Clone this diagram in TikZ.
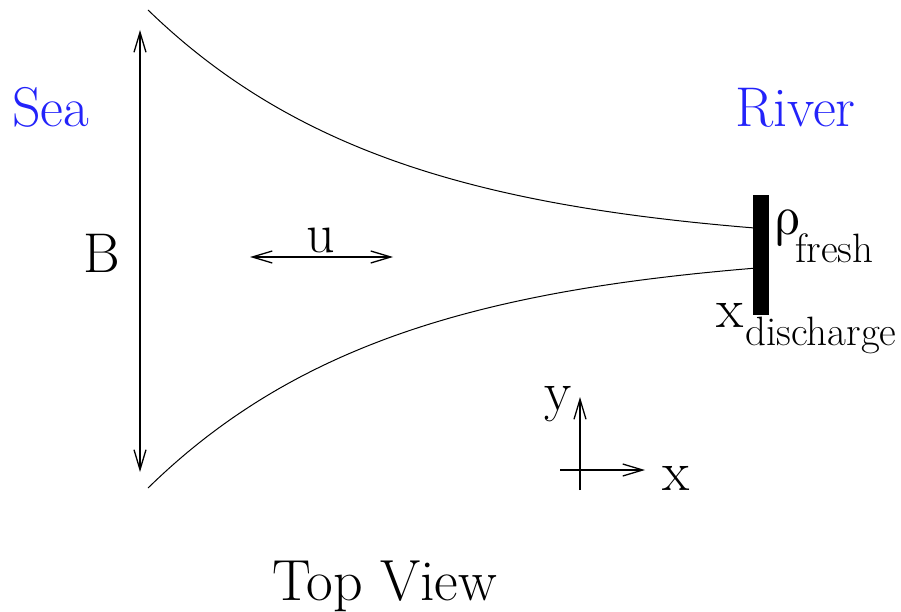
\documentclass[tikz,border=0pt]{standalone}
\usepackage{fontspec}
\newfontfamily\greekup{Latin Modern Math}
\usetikzlibrary{arrows.meta}
\definecolor{seablue}{RGB}{35,35,250}
\tikzset{
  big/.style={font=\fontsize{56}{60}\selectfont,inner sep=0pt,anchor=base west},
  small/.style={font=\fontsize{41}{44}\selectfont,inner sep=0pt,anchor=base west},
  arr/.style={line width=1.3pt},
  bank/.style={line width=1pt}
}

\begin{document}
\begin{tikzpicture}[x=1pt,y=-1pt,>={Straight Barb[length=20pt,width=12pt]}]
\useasboundingbox (0,0) rectangle (901,612);
% banks of the estuary
\draw[bank] plot[domain=148:755,samples=80,smooth] (\x,{248-238*exp(-(\x-148)/245)});
\draw[bank] plot[domain=148:755,samples=80,smooth] (\x,{248+240*exp(-(\x-148)/245)});
\node[fill=black,inner sep=0pt,minimum width=16pt,minimum height=120pt,anchor=north west] (weir) at (753,195) {};

\coordinate (Btop) at (140,30);
\coordinate (Bbot) at (140,472);
\draw[arr,<->] (Bbot) -- (Btop);
\node[big] (B) at (83,272) {B};

\coordinate (uL) at (250,257);
\coordinate (uR) at (393,257);
\draw[arr,<->] (uL) -- (uR);
\node[big] (u) at (306,252) {u};

\node[big,text=seablue] (sea) at (12,127) {Sea};
\node[big,text=seablue] (river) at (735,127) {River};

\node[big] (rho) at (774,234) {\greekup ρ};
\node[small] (fresh) at (795,262) {fresh};
\node[big] (xd) at (716,327) {x};
\node[small] (dis) at (745,345) {discharge};

% axes
\coordinate (o) at (580,470);
\coordinate (ybot) at (580,490);
\coordinate (ytop) at (580,397);
\coordinate (xl) at (560,470);
\coordinate (xr) at (645,470);
\draw[arr,->] (ybot) -- (ytop);
\draw[arr,->] (xl) -- (xr);
\node[big] (ylab) at (544,410) {y};
\node[big] (xlab) at (662,490) {x};

\node[font=\fontsize{58}{62}\selectfont,inner sep=0pt,anchor=base west] (title) at (272,600) {Top View};
\end{tikzpicture}
\end{document}
